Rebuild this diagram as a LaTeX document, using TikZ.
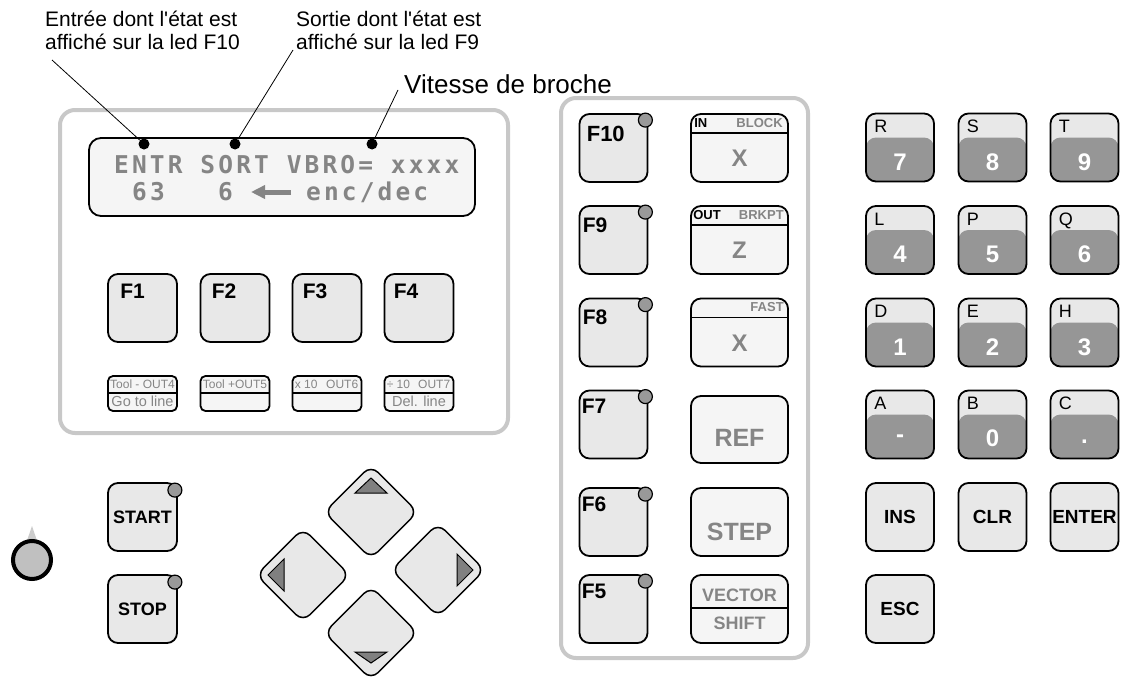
\documentclass[tikz,border=0pt]{standalone}
\usepackage{fontspec}
\setmainfont{Liberation Sans}[Ligatures=TeXOff]
\newfontfamily\lcdfont[LetterSpace=12.8]{DejaVu Sans Mono}
\usepackage{tikz}
\usetikzlibrary{arrows.meta, calc}
\definecolor{panelgray}{HTML}{C8C8C8}
\definecolor{keygray}{HTML}{E8E8E8}
\definecolor{keylight}{HTML}{F5F5F5}
\definecolor{labelgray}{HTML}{858585}
\definecolor{ledgray}{HTML}{999999}
\definecolor{digitgray}{HTML}{969696}
\definecolor{tipgray}{HTML}{808080}
\definecolor{knobgray}{HTML}{C0C0C0}
\definecolor{knobtip}{HTML}{CCCCCC}
\newcommand{\pxsize}[1]{\fontsize{#1}{#1}\selectfont}

\begin{document}
\begin{tikzpicture}[
    x=1pt, y=-1pt,
    every node/.style={inner sep=0pt},
    panel/.style={draw=panelgray, line width=4pt, rounded corners=15pt, fill=white},
    lcdbox/.style={draw, line width=1.8pt, rounded corners=12pt, fill=keylight, minimum width=386pt, minimum height=78pt},
    dot/.style={circle, fill=black, minimum size=11pt},
    leader/.style={line width=0.8pt},
    key/.style={draw, line width=1.8pt, rounded corners=10pt, fill=keygray, minimum width=68pt, minimum height=68pt},
    led/.style={circle, draw, line width=1.2pt, fill=ledgray, minimum size=14pt},
    tagbox/.style={draw, line width=1.8pt, rounded corners=5pt, fill=keylight, minimum width=69pt, minimum height=35pt,
        path picture={\draw[line width=1.8pt] ([yshift=-17pt]path picture bounding box.north west) -- ([yshift=-17pt]path picture bounding box.north east);}},
    modekey/.style={key, fill=keylight, minimum width=97pt},
    splitkey/.style={modekey, path picture={\draw[line width=1.8pt] ([yshift=-#1]path picture bounding box.north west) -- ([yshift=-#1]path picture bounding box.north east);}},
    numkey/.style={key, path picture={\fill[digitgray] ([yshift=-24pt]path picture bounding box.north west) rectangle (path picture bounding box.south east);}},
    arrowkey/.style={draw, line width=1.5pt, rounded corners=10pt, fill=keygray, minimum size=66pt, rotate=45},
    tipfill/.style={fill=tipgray, draw, line width=1pt},
    notetxt/.style={font=\fontsize{21}{22}\selectfont, align=left},
    lcdtxt/.style={font=\lcdfont\bfseries\pxsize{24.5}, text=labelgray},
    fname/.style={font=\bfseries\pxsize{21}, anchor=base west},
    tagtop/.style={font=\pxsize{12}, text=labelgray},
    tagbot/.style={font=\pxsize{14.5}, text=labelgray},
    modetop/.style={font=\bfseries\pxsize{13}},
    modebig/.style={font=\bfseries\pxsize{24}, text=labelgray},
    letter/.style={font=\pxsize{18}, anchor=base west},
    digit/.style={font=\bfseries\pxsize{24}, text=white},
    cmd/.style={font=\bfseries\pxsize{19}}
]
    \useasboundingbox (0,0) rectangle (1121,677);

    % notes above the display
    \node[notetxt, anchor=base west] (noteE) at (45,49) {Entrée dont l'état est\\affiché sur la led F10};
    \node[notetxt, anchor=base west] (noteS) at (296,49) {Sortie dont l'état est\\affiché sur la led F9};
    \node[font=\pxsize{26}, anchor=base west] (noteV) at (404,93) {Vitesse de broche};

    % left panel with display
    \node[panel, minimum width=448pt, minimum height=323pt] (leftpanel) at (284,271.5) {};
    \node[lcdbox] (lcd) at (282,177) {};
    \node[lcdtxt, anchor=base west] (lcdtop) at (114,173) {ENTR SORT VBRO= xxxx};
    \node[lcdtxt, anchor=base west] (lcdin) at (132,200) {63};
    \node[lcdtxt, anchor=base west] (lcdout) at (218,200) {6};
    \node[lcdtxt, anchor=base west] (lcdenc) at (306,200) {enc/dec};
    \coordinate (arrtail) at (291,192);
    \coordinate (arrhead) at (251,192);
    \draw[labelgray, line width=5pt, -{Triangle[length=14pt, width=13pt]}] (arrtail) -- (arrhead);

    \node[dot] (dotE) at (144,144) {};
    \node[dot] (dotS) at (235,144) {};
    \node[dot] (dotV) at (372,144) {};
    \coordinate (legE) at (52,60);
    \coordinate (legS) at (293,50);
    \coordinate (legV) at (398,90);
    \draw[leader] (legE) -- (dotE);
    \draw[leader] (legS) -- (dotS);
    \draw[leader] (legV) -- (dotV);

    % F1 - F4 and their tags
    \node[key, minimum width=69pt] (f1) at (142.5,308) {};
    \node[key, minimum width=69pt] (f2) at (235,308) {};
    \node[key, minimum width=69pt] (f3) at (327,308) {};
    \node[key, minimum width=69pt] (f4) at (419,308) {};
    \node[fname] at ($(f1.north west)+(13,25)$) {F1};
    \node[fname] at ($(f2.north west)+(12,25)$) {F2};
    \node[fname] at ($(f3.north west)+(11,25)$) {F3};
    \node[fname] at ($(f4.north west)+(10,25)$) {F4};

    \node[tagbox] (tag1) at (142.5,393.5) {};
    \node[tagbox] (tag2) at (235,393.5) {};
    \node[tagbox] (tag3) at (327,393.5) {};
    \node[tagbox] (tag4) at (419,393.5) {};
    \node[tagtop, anchor=base] at ($(tag1.north)+(0,13.5)$) {Tool - OUT4};
    \node[tagbot, anchor=base] at ($(tag1.north)+(0,31)$) {Go to line};
    \node[tagtop, anchor=base] at ($(tag2.north)+(0,13.5)$) {Tool +OUT5};
    \node[tagtop, anchor=base west] at ($(tag3.north west)+(3,13.5)$) {x 10};
    \node[tagtop, anchor=base east] at ($(tag3.north east)+(-4,13.5)$) {OUT6};
    \node[tagtop, anchor=base west] at ($(tag4.north west)+(3,13.5)$) {÷ 10};
    \node[tagtop, anchor=base east] at ($(tag4.north east)+(-4,13.5)$) {OUT7};
    \node[tagbot, anchor=base] at ($(tag4.north)+(0,31)$) {Del. line};

    % middle panel
    \node[panel, minimum width=247pt, minimum height=560pt] (midpanel) at (684.5,378) {};
    \node[key] (f10) at (613.5,148) {};
    \node[key] (f9) at (613.5,240) {};
    \node[key] (f8) at (613.5,332.5) {};
    \node[key] (f7) at (613.5,424.5) {};
    \node[key] (f6) at (613.5,522) {};
    \node[key] (f5) at (613.5,609) {};
    \node[fname, font=\bfseries\pxsize{22}] at ($(f10.north west)+(8,28)$) {F10};
    \node[fname] at ($(f9.north west)+(4,27)$) {F9};
    \node[fname] at ($(f8.north west)+(4,27)$) {F8};
    \node[fname] at ($(f7.north west)+(3,24)$) {F7};
    \node[fname] at ($(f6.north west)+(3,24)$) {F6};
    \node[fname] at ($(f5.north west)+(3,24)$) {F5};
    \node[led] (ledf10) at ($(f10.north east)+(-3,7)$) {};
    \node[led] (ledf9) at ($(f9.north east)+(-3,7)$) {};
    \node[led] (ledf8) at ($(f8.north east)+(-3,7)$) {};
    \node[led] (ledf7) at ($(f7.north east)+(-3,7)$) {};
    \node[led] (ledf6) at ($(f6.north east)+(-3,7)$) {};
    \node[led] (ledf5) at ($(f5.north east)+(-3,7)$) {};

    \node[splitkey=19pt] (axisx) at (739.5,148) {};
    \node[splitkey=19pt] (axisz) at (739.5,240) {};
    \node[splitkey=19pt] (fastx) at (739.5,332.5) {};
    \node[modekey, minimum height=67pt] (refkey) at (739.5,429.5) {};
    \node[modekey] (stepkey) at (739.5,522) {};
    \node[splitkey=33pt] (veckey) at (739.5,609) {};
    \node[modetop, anchor=base west] at ($(axisx.north west)+(4,14)$) {IN};
    \node[modetop, text=labelgray, anchor=base east] at ($(axisx.north east)+(-6,14)$) {BLOCK};
    \node[modebig] at ($(axisx.center)+(0,10)$) {X};
    \node[modetop, anchor=base west] at ($(axisz.north west)+(3,14)$) {OUT};
    \node[modetop, text=labelgray, anchor=base east] at ($(axisz.north east)+(-5,14)$) {BRKPT};
    \node[modebig] at ($(axisz.center)+(0,10)$) {Z};
    \node[modetop, text=labelgray, anchor=base east] at ($(fastx.north east)+(-5,14)$) {FAST};
    \node[modebig] at ($(fastx.center)+(0,10.5)$) {X};
    \node[modebig, font=\bfseries\pxsize{25}] at ($(refkey.center)+(0,8.5)$) {REF};
    \node[modebig, font=\bfseries\pxsize{25}] at ($(stepkey.center)+(0,10)$) {STEP};
    \node[modebig, font=\bfseries\pxsize{18}] at ($(veckey.center)+(0,-14)$) {VECTOR};
    \node[modebig, font=\bfseries\pxsize{18}] at ($(veckey.center)+(0,14)$) {SHIFT};

    % numeric keypad
    \node[numkey] (k7) at (900,147.5) {};
    \node[numkey] (k8) at (992.5,147.5) {};
    \node[numkey] (k9) at (1084.5,147.5) {};
    \node[numkey] (k4) at (900,240) {};
    \node[numkey] (k5) at (992.5,240) {};
    \node[numkey] (k6) at (1084.5,240) {};
    \node[numkey] (k1) at (900,332.5) {};
    \node[numkey] (k2) at (992.5,332.5) {};
    \node[numkey] (k3) at (1084.5,332.5) {};
    \node[numkey] (kminus) at (900,424.5) {};
    \node[numkey] (k0) at (992.5,424.5) {};
    \node[numkey] (kdot) at (1084.5,424.5) {};
    \node[letter] at ($(k7.north west)+(9,20)$) {R};
    \node[letter] at ($(k8.north west)+(9,20)$) {S};
    \node[letter] at ($(k9.north west)+(9,20)$) {T};
    \node[letter] at ($(k4.north west)+(9,20)$) {L};
    \node[letter] at ($(k5.north west)+(9,20)$) {P};
    \node[letter] at ($(k6.north west)+(9,20)$) {Q};
    \node[letter] at ($(k1.north west)+(9,20)$) {D};
    \node[letter] at ($(k2.north west)+(9,20)$) {E};
    \node[letter] at ($(k3.north west)+(9,20)$) {H};
    \node[letter] at ($(kminus.north west)+(9,20)$) {A};
    \node[letter] at ($(k0.north west)+(9,20)$) {B};
    \node[letter] at ($(kdot.north west)+(9,20)$) {C};
    \node[digit] at ($(k7.center)+(0,14.5)$) {7};
    \node[digit] at ($(k8.center)+(0,14.5)$) {8};
    \node[digit] at ($(k9.center)+(0,14.5)$) {9};
    \node[digit] at ($(k4.center)+(0,14.5)$) {4};
    \node[digit] at ($(k5.center)+(0,14.5)$) {5};
    \node[digit] at ($(k6.center)+(0,14.5)$) {6};
    \node[digit] at ($(k1.center)+(0,14.5)$) {1};
    \node[digit] at ($(k2.center)+(0,14.5)$) {2};
    \node[digit] at ($(k3.center)+(0,14.5)$) {3};
    \node[digit] at ($(kminus.center)+(0,14.5)$) {-};
    \node[digit] at ($(k0.center)+(0,14)$) {0};
    \node[digit] at ($(kdot.center)+(0,17)$) {.};

    \node[key] (kins) at (900,517) {};
    \node[key] (kclr) at (992.5,517) {};
    \node[key] (kenter) at (1084.5,517) {};
    \node[key] (kesc) at (900,609) {};
    \node[cmd] at (kins) {INS};
    \node[cmd] at (kclr) {CLR};
    \node[cmd] at (kenter) {ENTER};
    \node[cmd] at (kesc) {ESC};

    % start / stop and knob
    \node[key, minimum width=69pt] (start) at (142.5,517) {};
    \node[key, minimum width=69pt] (stop) at (142.5,609) {};
    \node[cmd, font=\bfseries\pxsize{18}] at (start) {START};
    \node[cmd, font=\bfseries\pxsize{18}] at (stop) {STOP};
    \node[led] (ledstart) at ($(start.north east)+(-3,8)$) {};
    \node[led] (ledstop) at ($(stop.north east)+(-3,8)$) {};

    \fill[knobtip] (32,526) -- (37.5,542) -- (26.5,542) -- cycle;
    \node[circle, draw, line width=4pt, fill=knobgray, minimum size=38pt] (knob) at (32,560) {};

    % jog arrows
    \node[arrowkey] (kup) at (371,512) {};
    \node[arrowkey] (kleft) at (303,575) {};
    \node[arrowkey] (kright) at (438,570) {};
    \node[arrowkey] (kdown) at (371,633) {};
    \filldraw[tipfill] (371,478) -- (387,493) -- (355,493) -- cycle;
    \filldraw[tipfill] (371,663) -- (387,652) -- (355,652) -- cycle;
    \filldraw[tipfill] (268,575) -- (284,559) -- (284,591) -- cycle;
    \filldraw[tipfill] (473,570) -- (457,554) -- (457,586) -- cycle;
\end{tikzpicture}
\end{document}
